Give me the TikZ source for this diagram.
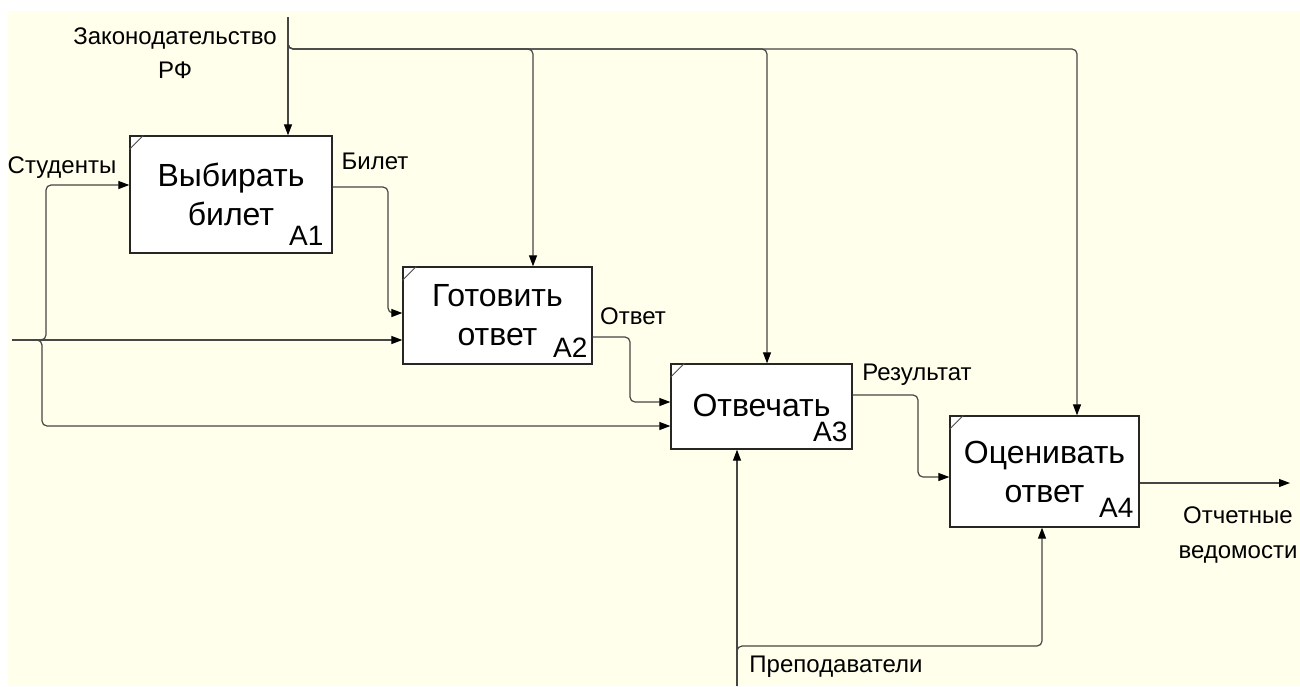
\documentclass[tikz,border=0pt]{standalone}
\usepackage{fontspec}
\setmainfont{Liberation Sans}
\usetikzlibrary{arrows.meta}
\definecolor{paper}{RGB}{255,255,236}
\definecolor{wirecol}{RGB}{70,70,70}

\begin{document}
\begin{tikzpicture}[x=1pt, y=-1pt,
    box/.style={draw=black!85, line width=1.3pt, fill=white, inner sep=0pt,
      align=center, font=\fontsize{32}{39}\selectfont},
    num/.style={anchor=base east, inner sep=0pt, font=\fontsize{28}{28}\selectfont},
    lbl/.style={inner sep=0pt, align=center, font=\fontsize{24}{34}\selectfont},
    icom/.style={draw=wirecol, line width=1.2pt, rounded corners=5pt,
      -{Triangle[length=11pt,width=8pt,color=black,fill=black]}}]

    % page and paper
    \useasboundingbox (0,0) rectangle (1300,686);
    \fill[white] (0,0) rectangle (1300,686);
    \fill[paper] (8,11) rectangle (1300,686);

    % coordinates to be reused
    \coordinate (lawtop) at (288,17);
    \coordinate (lawfork) at (288,40);
    \coordinate (c2) at (533,49);
    \coordinate (c3) at (767,49);
    \coordinate (c4) at (1077,49);
    \coordinate (stud) at (12,340);
    \coordinate (s1) at (46,185);
    \coordinate (s3) at (42,426);
    \coordinate (teach) at (737,686);
    \coordinate (m4) at (1042,646);
    \coordinate (out) at (1290,483);

    % activity boxes
    \node[box, minimum width=202pt, minimum height=117pt] (a1) at (231,194.5) {Выбирать\\билет};
    \node[box, minimum width=189pt, minimum height=97pt] (a2) at (497.5,315.5) {Готовить\\ответ};
    \node[box, minimum width=181pt, minimum height=85pt] (a3) at (761.5,406.5) {\raisebox{3pt}{Отвечать}};
    \node[box, minimum width=189pt, minimum height=111pt] (a4) at (1044.5,471.5) {Оценивать\\ответ};
    \node[num] (n1) at ([xshift=-9pt,yshift=8pt]a1.south east) {A1};
    \node[num] (n2) at ([xshift=-5pt,yshift=7pt]a2.south east) {A2};
    \node[num] (n3) at ([xshift=-5pt,yshift=8pt]a3.south east) {A3};
    \node[num] (n4) at ([xshift=-6pt,yshift=10pt]a4.south east) {A4};
    \foreach \b in {a1,a2,a3,a4}
      \draw[black!70, line width=0.8pt] ([yshift=-14pt]\b.north west) -- ([xshift=14pt]\b.north west);

    % controls
    \draw[icom] (lawtop) -- (lawtop |- a1.north);
    \draw[icom] (lawfork) |- (c2) -- (c2 |- a2.north);
    \draw[icom] (lawfork) |- (c3) -- (c3 |- a3.north);
    \draw[icom] (lawfork) |- (c4) -- (c4 |- a4.north);

    % inputs and outputs
    \draw[icom] (stud) -- (stud -| a2.west);
    \draw[icom] (stud) -| (s1) -- (s1 -| a1.west);
    \draw[icom] (stud) -| (s3) -- (s3 -| a3.west);
    \draw[icom] (a1.east |- 0,187) -| (388,313) -- (a2.west |- 0,313);
    \draw[icom] (a2.east |- 0,337) -| (630,402) -- (a3.west |- 0,402);
    \draw[icom] (a3.east |- 0,395) -| (918,477) -- (a4.west |- 0,477);
    \draw[icom] (a4.east |- out) -- (out);

    % mechanisms
    \draw[icom] (teach) -- (teach |- a3.south);
    \draw[icom] (teach) |- (m4) -- (m4 |- a4.south);

    % add labels
    \node[lbl] (law) at (175,53) {Законодательство\\РФ};
    \node[lbl] (studl) at (62,168) {Студенты};
    \node[lbl] (bilet) at (375,161) {Билет};
    \node[lbl] (otvet) at (633,316) {Ответ};
    \node[lbl] (result) at (917,375) {Результат};
    \node[lbl] (report) at (1238,535) {Отчетные\\ведомости};
    \node[lbl] (teachl) at (836,667) {Преподаватели};
\end{tikzpicture}
\end{document}
